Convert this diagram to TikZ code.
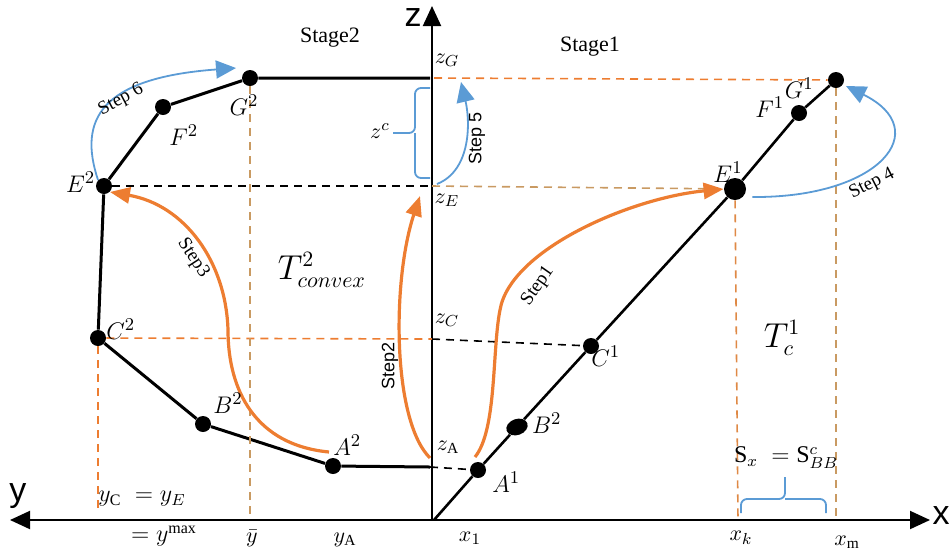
\documentclass[tikz,border=0pt]{standalone}
\usepackage{amsmath}
\usepackage{fontspec}
\setmainfont{Liberation Serif}
\newfontfamily\axisfont{Liberation Sans}
\usetikzlibrary{arrows.meta,positioning,shapes.geometric}

\definecolor{stepblue}{HTML}{5B9BD5}
\definecolor{steporange}{HTML}{ED7D31}
\definecolor{guidetan}{HTML}{C99A62}

\begin{document}
\begin{tikzpicture}[
        x=0.5pt, y=-0.5pt, font=\fontsize{11}{13}\selectfont,
        dot/.style={circle, fill=black, inner sep=0pt, minimum size=8pt},
        ptlab/.style={inner sep=0pt, font=\fontsize{13}{15}\selectfont},
        zlab/.style={inner sep=0pt, font=\fontsize{11}{13}\selectfont},
        axlab/.style={inner sep=0pt, font=\axisfont\fontsize{17}{19}\selectfont},
        steplab/.style={inner sep=0pt, font=\fontsize{9.5}{11}\selectfont},
        axis/.style={line width=1pt, -{Triangle[length=10pt, width=9pt]}},
        hull/.style={line width=1.5pt},
        guide/.style={dash pattern=on 4pt off 3pt, line width=0.8pt},
        bluestep/.style={stepblue, line width=0.9pt, -{Triangle[length=10pt, width=9pt]}},
        orangestep/.style={steporange, line width=1.6pt, -{Triangle[length=10pt, width=8pt]}},
        bracket/.style={stepblue, line width=0.9pt, rounded corners=3pt}
    ]
        \useasboundingbox (0,0) rectangle (949,554);

        % axes
        \coordinate (o) at (432,520);
        \coordinate (xend) at (930,520);
        \coordinate (yend) at (10,520);
        \coordinate (zend) at (432,6);
        \draw[axis] (o) -- (xend);
        \draw[axis] (o) -- (yend);
        \draw[axis] (o) -- (zend);
        \node[axlab] (xlab) at (941,516) {x};
        \node[axlab] (ylab) at (18,496) {y};
        \node[axlab] (zlab) at (413,18) {z};

        % points, stage 2
        \node[dot] (e2) at (104,186) {};
        \node[dot] (f2) at (163,107) {};
        \node[dot] (g2) at (250,78) {};
        \node[dot] (c2) at (98,338) {};
        \node[dot] (b2) at (203,424) {};
        \node[dot] (a2) at (333,466) {};
        \coordinate (gz) at (430,78);
        \coordinate (az) at (430,467);

        % points, stage 1
        \coordinate (o1) at (434,520);
        \node[dot] (a1) at (478,470) {};
        \node[dot, ellipse, minimum width=11pt, minimum height=8pt, rotate=20] (bb) at (517,427) {};
        \node[dot] (c1) at (591,346) {};
        \node[dot, minimum size=11pt] (e1) at (735,189) {};
        \node[dot] (f1) at (799,113) {};
        \node[dot] (g1) at (836,80) {};

        \draw[hull] (gz) -- (g2) -- (f2) -- (e2) -- (c2) -- (b2) -- (a2) -- (az);
        \draw[line width=1.3pt] (o1) -- (a1) -- (bb) -- (c1) -- (e1) -- (f1) -- (g1);

        % levels on the z axis
        \coordinate (zg) at (434,78);
        \coordinate (ze) at (432,186);
        \coordinate (zc) at (432,339);
        \draw[guide, steporange] (zg) -- (g1);
        \draw[guide, black] (e2) -- (ze);
        \draw[guide, guidetan] (ze) -- (e1);
        \draw[guide, steporange] (c2) -- (zc);
        \draw[guide, black] (zc) -- (c1);
        \draw[guide, black] (az) -- (a1);

        % drops to the axes
        \coordinate (yc) at (98,514);
        \coordinate (ybar) at (250,520);
        \coordinate (xk) at (738,520);
        \coordinate (xm) at (836,520);
        \draw[guide, steporange] (c2) -- (yc);
        \draw[guide, guidetan] (g2) -- (ybar);
        \draw[guide, steporange!60!guidetan] (e1) -- (xk);
        \draw[guide, guidetan] (g1) -- (xm);

        % brackets
        \draw[bracket] (430,88) -| (415,133) -- (393,133);
        \draw[bracket] (430,178) -| (415,133);
        \draw[bracket] (741,513) |- (785,499) -- (785,477);
        \draw[bracket] (826,513) |- (785,499);

        % steps
        \draw[bluestep] (e2.north west) .. controls (78,120) and (100,78) .. (236,68);
        \draw[bluestep] (ze) ++(5,-2) .. controls (472,170) and (470,120) .. (461,82);
        \draw[bluestep] (e1.east) ++(6,8) .. controls (880,198) and (935,130) .. (846,86);
        \draw[orangestep] (a1) ++(-3,-13) .. controls (497,430) and (492,350) .. (500,310)
            .. controls (510,250) and (630,198) .. (e1.west);
        \draw[orangestep] (az) ++(0,-9) .. controls (392,420) and (392,280) .. (420,196);
        \draw[orangestep] (a2) ++(-4,-14) .. controls (255,445) and (228,390) .. (228,330)
            .. controls (226,262) and (185,205) .. (e2.south east);

        \node[steplab, rotate=28] (s6) at (121,100) {Step 6};
        \node[steplab, rotate=90, font=\axisfont\fontsize{9}{11}\selectfont] (s5) at (477,138) {Step 5};
        \node[steplab, rotate=27] (s4) at (872,184) {Step 4};
        \node[steplab, rotate=55] (s1) at (538,286) {Step1};
        \node[steplab, rotate=90, font=\axisfont\fontsize{9}{11}\selectfont] (s2) at (390,366) {Step2};
        \node[steplab, rotate=-57] (s3) at (193,258) {Step3};

        % labels
        \node (stage2) at (330,38) {Stage2};
        \node (stage1) at (590,47) {Stage1};
        \node[ptlab, left=0pt of e2, yshift=2pt] (le2) {$E^2$};
        \node[ptlab, below right=6pt and 0pt of f2] (lf2) {$F^2$};
        \node[ptlab, below=4pt of g2, xshift=-3pt] (lg2) {$G^2$};
        \node[ptlab, above right=-4pt and 1pt of c2] (lc2) {$C^2$};
        \node[ptlab, above right=2pt and 2pt of b2] (lb2) {$B^2$};
        \node[ptlab, above right=2pt and -3pt of a2] (la2) {$A^2$};
        \node[ptlab, below right=-2pt and 4pt of a1] (la1) {$A^1$};
        \node[ptlab, right=2pt of bb] (lbb) {$B^2$};
        \node[ptlab, below right=-3pt and -3pt of c1] (lc1) {$C^1$};
        \node[ptlab, above left=-1pt and -8pt of e1] (le1) {$E^1$};
        \node[ptlab, left=3pt of f1, yshift=3pt] (lf1) {$F^1$};
        \node[ptlab, below left=-4pt and 8pt of g1] (lg1) {$G^1$};
        \node[zlab] (lzg) at (447,60) {$z_G$};
        \node[zlab] (lze) at (447,200) {$z_E$};
        \node[zlab] (lzc) at (447,320) {$z_C$};
        \node[zlab] (lza) at (448,447) {$z_{\mathrm{A}}$};
        \node[zlab] (lzcc) at (380,131) {$z^c$};
        \node[inner sep=0pt, font=\fontsize{16}{18}\selectfont] (t2) at (322,270) {$T^2_{convex}$};
        \node[inner sep=0pt, font=\fontsize{16}{18}\selectfont] (t1) at (782,338) {$T^1_c$};
        \node[zlab, font=\fontsize{12}{14}\selectfont] (sx) at (786,458) {$\mathrm{S}_x\;=\mathrm{S}^c_{BB}$};
        \node[zlab] (lx1) at (470,538) {$x_1$};
        \node[zlab] (lxk) at (741,538) {$x_k$};
        \node[zlab] (lxm) at (847,542) {$x_{\mathrm{m}}$};
        \node[zlab] (lya) at (345,540) {$y_{\mathrm{A}}$};
        \node[zlab] (lyb) at (252,538) {$\bar{y}$};
        \node[zlab, font=\fontsize{12}{14}\selectfont] (lyc) at (142,499) {$y_{\mathrm{C}}\;=y_E$};
        \node[zlab, font=\fontsize{12}{14}\selectfont] (lym) at (164,536) {$=y^{\mathrm{max}}$};
    \end{tikzpicture}
\end{document}
